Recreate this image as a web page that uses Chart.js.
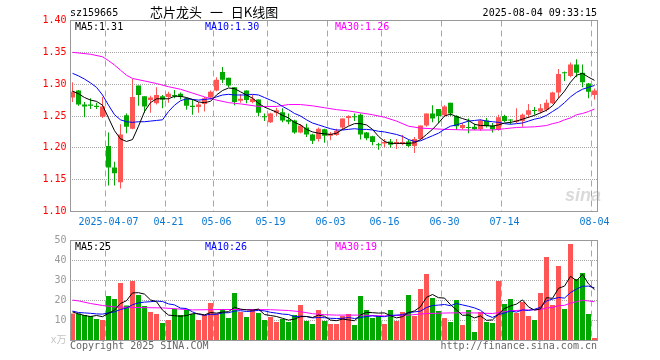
<!DOCTYPE html>
<html>
<head>
<meta charset="utf-8">
<script src="https://cdn.jsdelivr.net/npm/chart.js@4.4.1/dist/chart.umd.min.js"></script>
<style>
    body { margin: 0; background: #fff; }
    #wrap { position: relative; width: 660px; height: 360px; overflow: hidden; }
    canvas { position: absolute; left: 0; }
    .t { position: absolute; font: 10px/10px "DejaVu Sans Mono", monospace; color: #000; white-space: pre; z-index: 2; }
    .cjk { font: 13px/14px "Noto Sans CJK SC", sans-serif; word-spacing: 5px; }
</style>
</head>
<body>
<div id="wrap">
    <canvas id="kChart" width="660" height="236" style="top:0"></canvas>
    <canvas id="vChart" width="660" height="122" style="top:230px"></canvas>

    <div class="t" style="left:70px;top:8px">sz159665</div>
    <div class="t cjk" style="left:150px;top:5px">芯片龙头 一 日K线图</div>
    <div class="t" style="right:63px;top:8px">2025-08-04 09:33:15</div>

    <div class="t" id="lgMa5" style="left:75px;top:22px"></div>
    <div class="t" id="lgMa10" style="left:205px;top:22px;color:#0000ff"></div>
    <div class="t" id="lgMa30" style="left:335px;top:22px;color:#ff00ff"></div>

    <div class="t" id="lgVma5" style="left:75px;top:242px"></div>
    <div class="t" id="lgVma10" style="left:205px;top:242px;color:#0000ff"></div>
    <div class="t" id="lgVma30" style="left:335px;top:242px;color:#ff00ff"></div>

    <div class="t" style="left:70px;top:341px;color:#666">Copyright 2025 SINA.COM</div>
    <div class="t" style="right:63px;top:341px;color:#666">http://finance.sina.com.cn</div>
    <div class="t" style="left:565px;top:186px;font:italic bold 18px/19px 'Liberation Sans',sans-serif;color:rgba(150,150,150,0.35)">sina</div>
</div>

<script>
// trading days shown
const dates = [
    '2025-03-27','2025-03-28','2025-03-31',
    '2025-04-01','2025-04-02','2025-04-03','2025-04-07','2025-04-08','2025-04-09','2025-04-10','2025-04-11',
    '2025-04-14','2025-04-15','2025-04-16','2025-04-17','2025-04-18',
    '2025-04-21','2025-04-22','2025-04-23','2025-04-24','2025-04-25',
    '2025-04-28','2025-04-29','2025-04-30',
    '2025-05-06','2025-05-07','2025-05-08','2025-05-09',
    '2025-05-12','2025-05-13','2025-05-14','2025-05-15','2025-05-16',
    '2025-05-19','2025-05-20','2025-05-21','2025-05-22','2025-05-23',
    '2025-05-26','2025-05-27','2025-05-28','2025-05-29','2025-05-30',
    '2025-06-03','2025-06-04','2025-06-05','2025-06-06',
    '2025-06-09','2025-06-10','2025-06-11','2025-06-12','2025-06-13',
    '2025-06-16','2025-06-17','2025-06-18','2025-06-19','2025-06-20',
    '2025-06-23','2025-06-24','2025-06-25','2025-06-26','2025-06-27',
    '2025-06-30',
    '2025-07-01','2025-07-02','2025-07-03','2025-07-04',
    '2025-07-07','2025-07-08','2025-07-09','2025-07-10','2025-07-11',
    '2025-07-14','2025-07-15','2025-07-16','2025-07-17','2025-07-18',
    '2025-07-21','2025-07-22','2025-07-23','2025-07-24','2025-07-25',
    '2025-07-28','2025-07-29','2025-07-30','2025-07-31',
    '2025-08-01','2025-08-04'
];

const shownDates = ['2025-04-07','2025-04-21','2025-05-06','2025-05-19','2025-06-03','2025-06-16','2025-06-30','2025-07-14','2025-08-04'];
const shownText  = ['2025-04-07','04-21','05-06','05-19','06-03','06-16','06-30','07-14','08-04'];

const opens = [
    1.279,1.290,1.268,1.268,1.266,1.249,1.203,1.169,1.146,1.251,
    1.230,1.298,1.281,1.275,1.270,1.281,1.280,1.283,1.285,1.278,
    1.266,1.264,1.269,1.279,1.290,1.319,1.310,1.295,1.274,1.290,
    1.272,1.276,1.249,1.240,1.255,1.256,1.244,1.243,1.224,1.232,
    1.221,1.214,1.229,1.219,1.220,1.232,1.247,1.249,1.252,1.224,
    1.218,1.205,1.207,1.210,1.206,1.206,1.210,1.203,1.214,1.235,
    1.254,1.261,1.251,1.271,1.250,1.231,1.232,1.233,1.229,1.243,
    1.235,1.228,1.250,1.244,1.241,1.242,1.252,1.259,1.257,1.260,
    1.270,1.287,1.318,1.313,1.331,1.318,1.301,1.283
];
const highs = [
    1.303,1.291,1.272,1.278,1.271,1.280,1.224,1.178,1.237,1.254,
    1.308,1.298,1.281,1.282,1.295,1.283,1.288,1.291,1.287,1.279,
    1.276,1.272,1.280,1.290,1.311,1.327,1.310,1.295,1.284,1.290,
    1.283,1.276,1.254,1.255,1.263,1.262,1.254,1.244,1.237,1.238,
    1.222,1.232,1.230,1.225,1.230,1.246,1.251,1.254,1.254,1.225,
    1.219,1.208,1.214,1.214,1.214,1.220,1.213,1.217,1.235,1.254,
    1.267,1.261,1.267,1.271,1.251,1.239,1.246,1.238,1.245,1.247,
    1.239,1.252,1.252,1.245,1.262,1.254,1.269,1.264,1.269,1.276,
    1.288,1.324,1.320,1.334,1.339,1.331,1.302,1.293
];
const lows = [
    1.272,1.266,1.248,1.261,1.261,1.247,1.141,1.141,1.136,1.223,
    1.229,1.266,1.255,1.255,1.268,1.262,1.271,1.278,1.276,1.260,
    1.252,1.255,1.257,1.276,1.289,1.302,1.295,1.267,1.271,1.270,
    1.270,1.250,1.242,1.239,1.250,1.240,1.237,1.222,1.223,1.217,
    1.206,1.210,1.208,1.212,1.219,1.228,1.235,1.242,1.213,1.212,
    1.204,1.197,1.201,1.200,1.198,1.204,1.201,1.192,1.213,1.233,
    1.240,1.239,1.249,1.250,1.228,1.229,1.223,1.228,1.227,1.232,
    1.224,1.227,1.240,1.237,1.239,1.233,1.247,1.252,1.254,1.257,
    1.269,1.278,1.305,1.311,1.311,1.295,1.278,1.276
];
const closes = [
    1.288,1.268,1.265,1.266,1.264,1.265,1.169,1.160,1.221,1.233,
    1.280,1.283,1.265,1.279,1.283,1.276,1.285,1.281,1.280,1.266,
    1.264,1.268,1.278,1.288,1.307,1.307,1.298,1.272,1.277,1.275,
    1.277,1.255,1.248,1.254,1.259,1.243,1.241,1.224,1.235,1.221,
    1.211,1.230,1.219,1.222,1.227,1.246,1.250,1.248,1.221,1.215,
    1.209,1.204,1.209,1.205,1.209,1.209,1.203,1.214,1.235,1.254,
    1.246,1.250,1.265,1.254,1.234,1.236,1.231,1.229,1.243,1.234,
    1.229,1.248,1.242,1.243,1.243,1.252,1.259,1.258,1.262,1.271,
    1.287,1.316,1.317,1.331,1.318,1.303,1.288,1.290
];

// volume, x万
const volumes = [
    13.5,13.5,12.7,12.2,10.8,10.2,22.2,20.7,28.7,17.5,
    29.7,22.7,17.2,14.2,13.2,8.7,10.2,15.8,12.7,15.2,
    13.2,10.2,12.7,18.7,13.5,15.7,11.2,23.7,14.2,11.7,
    15.2,13.7,10.2,11.7,9.2,10.8,9.2,12.7,17.7,9.7,
    8.2,15.2,9.7,8.2,8.2,12.2,13.2,7.7,22.2,15.2,
    11.2,12.2,8.2,15.2,9.7,14.2,22.7,12.2,25.7,33.2,
    21.2,14.7,11.2,9.2,20.2,7.7,15.2,4.2,14.2,9.2,
    8.7,29.7,18.2,20.7,13.7,19.2,12.2,10.2,23.7,41.7,
    17.7,37.2,15.7,48.2,30.7,33.7,13.2,1.3
];

// moving average lines
const ma5 = [
    1.289,1.285,1.279,1.275,1.273,1.267,1.247,1.227,1.214,1.210,
    1.213,1.234,1.257,1.271,1.277,1.277,1.277,1.281,1.281,1.279,
    1.276,1.272,1.271,1.273,1.283,1.290,1.294,1.293,1.288,1.283,
    1.278,1.270,1.264,1.260,1.256,1.251,1.247,1.240,1.236,1.229,
    1.225,1.223,1.222,1.221,1.223,1.229,1.234,1.238,1.238,1.236,
    1.229,1.218,1.210,1.207,1.207,1.207,1.207,1.208,1.213,1.221,
    1.229,1.239,1.250,1.253,1.249,1.246,1.243,1.237,1.235,1.235,
    1.234,1.236,1.239,1.240,1.242,1.245,1.248,1.251,1.255,1.259,
    1.266,1.278,1.289,1.303,1.314,1.317,1.311,1.306
];
const ma10 = [
    1.317,1.313,1.308,1.302,1.295,1.283,1.267,1.252,1.244,1.241,
    1.240,1.241,1.241,1.242,1.243,1.244,1.257,1.267,1.274,1.277,
    1.276,1.275,1.276,1.277,1.280,1.283,1.284,1.283,1.283,1.283,
    1.284,1.283,1.279,1.275,1.271,1.265,1.260,1.254,1.250,1.244,
    1.239,1.236,1.233,1.230,1.228,1.228,1.229,1.230,1.229,1.229,
    1.228,1.226,1.225,1.223,1.221,1.218,1.213,1.210,1.211,1.215,
    1.219,1.223,1.229,1.234,1.236,1.239,1.242,1.243,1.244,1.242,
    1.241,1.240,1.238,1.237,1.238,1.239,1.242,1.245,1.247,1.251,
    1.257,1.263,1.271,1.280,1.287,1.292,1.295,1.298
];
const ma30At  = [0,3,5,6,7,8,9,10,12,14,16,18,20,22,24,26,28,31,34,36,38,40,42,44,46,48,50,52,54,56,58,60,62,66,70,72,74,77,79,80,81,82,83,84,85,86,87];
const ma30Val = [1.350,1.347,1.343,1.337,1.330,1.322,1.314,1.309,1.305,1.301,1.296,1.292,1.286,1.280,1.275,1.271,1.269,1.265,1.265,1.268,1.268,1.266,1.263,1.260,1.258,1.255,1.252,1.248,1.242,1.234,1.231,1.230,1.229,1.228,1.228,1.230,1.232,1.233,1.235,1.238,1.240,1.244,1.247,1.252,1.254,1.257,1.261];

const vma5 = [
    14.3,13.3,12.5,12.0,12.5,11.9,13.6,15.2,18.5,19.9,
    23.8,23.9,23.2,20.3,19.4,15.2,12.7,12.4,12.1,12.5,
    13.4,13.4,12.8,14.0,13.7,14.2,14.4,16.6,15.7,15.3,
    15.2,15.7,13.0,12.5,12.0,11.1,10.2,10.7,11.9,12.0,
    11.5,12.7,12.1,10.2,9.9,10.7,10.3,9.9,12.7,14.1,
    13.9,13.7,13.8,12.4,11.3,11.9,14.0,14.8,16.9,21.6,
    23.0,21.4,21.2,17.9,15.3,12.6,12.7,11.3,12.3,10.1,
    10.3,13.2,16.0,17.3,18.2,20.3,16.8,15.2,15.8,21.4,
    21.1,26.1,27.2,32.1,29.9,33.1,28.3,25.4
];
const vma10 = [
    14.7,14.0,13.8,13.6,13.3,13.2,13.8,14.3,15.5,16.2,
    17.9,18.8,19.2,19.4,19.7,19.5,18.3,17.8,16.2,16.0,
    14.3,13.1,12.6,13.1,13.1,13.8,13.9,14.7,14.9,14.5,
    14.7,15.1,14.8,14.1,13.7,13.2,13.0,11.9,12.2,12.0,
    11.3,11.5,11.4,11.1,11.0,11.1,11.5,11.0,11.5,12.0,
    12.3,12.0,11.9,12.6,12.7,12.9,13.9,14.3,14.7,16.5,
    17.5,17.7,18.0,17.4,18.5,17.8,17.1,16.3,15.1,12.7,
    11.5,13.0,13.7,14.8,14.2,15.3,15.0,15.6,16.6,19.8,
    20.7,21.5,21.2,24.0,25.7,27.1,27.2,26.3
];
const vma30At  = [0,1,3,5,7,10,15,20,25,29,33,36,38,40,42,44,48,52,56,59,63,67,70,73,76,78,79,80,81,82,83,84,85,86,87];
const vma30Val = [20.2,19.8,18.5,17.5,16.8,16.5,16.3,15.3,15.5,15.5,15.4,15.0,14.4,13.4,12.9,12.7,12.7,12.3,12.7,13.5,13.8,13.8,13.5,14.9,15.3,15.4,16.3,16.5,17.4,17.6,18.7,19.4,20.1,19.8,19.4];

const upColor = '#ff5555';
const downColor = '#00a800';
const monoFont = '"DejaVu Sans Mono", "Noto Sans CJK SC", monospace';

function spread(at, val) {
    let arr = dates.map(() => null);
    at.forEach((k, j) => { arr[k] = val[j]; });
    return arr;
}
function tickText(i) {
    let k = shownDates.indexOf(dates[i]);
    return k < 0 ? '' : shownText[k];
}

const candleColors = closes.map((c, i) => c > opens[i] ? upColor : downColor);
const ma30 = spread(ma30At, ma30Val);
const vma30 = spread(vma30At, vma30Val);

// legends in the panels
document.getElementById('lgMa5').textContent = 'MA5:' + ma5[ma5.length - 1].toFixed(2);
document.getElementById('lgMa10').textContent = 'MA10:' + ma10[ma10.length - 1].toFixed(2);
document.getElementById('lgMa30').textContent = 'MA30:' + ma30Val[ma30Val.length - 1].toFixed(2);
document.getElementById('lgVma5').textContent = 'MA5:' + Math.round(vma5[vma5.length - 1]);
document.getElementById('lgVma10').textContent = 'MA10:' + Math.round(vma10[vma10.length - 1]);
document.getElementById('lgVma30').textContent = 'MA30:' + Math.round(vma30Val[vma30Val.length - 1]);

// grey frame round the plot area
const framePlugin = {
    id: 'frame',
    afterDraw(chart) {
        const {ctx, chartArea: a} = chart;
        let l = Math.ceil(a.left) + 0.5, r = Math.floor(a.right) + 0.5;
        let t = Math.floor(a.top) + 0.5, b = Math.floor(a.bottom) + 0.5;
        ctx.save();
        ctx.strokeStyle = '#999';
        ctx.lineWidth = 1;
        ctx.strokeRect(l, t, r - l, b - t);
        ctx.restore();
    }
};

function maLine(data, color) {
    return {
        type: 'line',
        data: data,
        borderColor: color,
        borderWidth: 1,
        pointRadius: 0,
        tension: 0,
        spanGaps: true,
        order: 0
    };
}

function xAxis(showLabels, height) {
    return {
        type: 'category',
        offset: true,
        grid: {
            offset: true,
            drawTicks: false,
            lineWidth: 1,
            color: c => (c.tick && tickText(c.index)) ? '#a6a6a6' : 'rgba(0,0,0,0)'
        },
        border: { display: false, dash: [6, 4] },
        ticks: {
            display: showLabels,
            autoSkip: false,
            maxRotation: 0,
            padding: 5,
            color: '#0a78d2',
            font: { family: monoFont, size: 10 },
            callback: (v, i) => tickText(i)
        },
        afterFit: s => { s.height = height; }
    };
}

const baseOptions = {
    responsive: false,
    devicePixelRatio: 1,
    animation: false,
    events: [],
    plugins: { legend: { display: false }, tooltip: { enabled: false } }
};

// price chart
new Chart(document.getElementById('kChart'), {
    type: 'bar',
    data: {
        labels: dates,
        datasets: [
            maLine(ma5, '#000000'),
            maLine(ma10, '#0000ff'),
            maLine(ma30, '#ff00ff'),
            {
                data: opens.map((o, i) => [o, closes[i]]),
                backgroundColor: candleColors,
                barThickness: 5,
                minBarLength: 1,
                grouped: false,
                inflateAmount: 0,
                order: 1
            },
            {
                data: lows.map((l, i) => [l, highs[i]]),
                backgroundColor: candleColors,
                barThickness: 1,
                grouped: false,
                inflateAmount: 0,
                order: 2
            }
        ]
    },
    options: {
        ...baseOptions,
        layout: { padding: { left: 0, right: 62.5, top: 20.5, bottom: 0 } },
        scales: {
            x: xAxis(true, 24.5),
            y: {
                min: 1.10,
                max: 1.40,
                ticks: {
                    stepSize: 0.05,
                    padding: 3,
                    color: '#ff0000',
                    font: { family: monoFont, size: 10 },
                    callback: v => v.toFixed(2)
                },
                grid: { color: '#a6a6a6', drawTicks: false },
                border: { display: false, dash: [1, 1] },
                afterFit: s => { s.width = 69.5; }
            }
        }
    },
    plugins: [framePlugin]
});

// volume chart
new Chart(document.getElementById('vChart'), {
    type: 'bar',
    data: {
        labels: dates,
        datasets: [
            maLine(vma5, '#000000'),
            maLine(vma10, '#0000ff'),
            maLine(vma30, '#ff00ff'),
            {
                data: volumes,
                backgroundColor: candleColors,
                barThickness: 5,
                grouped: false,
                inflateAmount: 0,
                order: 1
            }
        ]
    },
    options: {
        ...baseOptions,
        layout: { padding: { left: 0, right: 62.5, top: 10.5, bottom: 0 } },
        scales: {
            x: xAxis(false, 11.5),
            y: {
                min: 0,
                max: 50,
                ticks: {
                    stepSize: 10,
                    padding: 3,
                    color: c => c.tick.value === 0 ? '#c4c4c4' : '#999999',
                    font: { family: monoFont, size: 10 },
                    callback: v => v === 0 ? 'x万' : v
                },
                grid: { color: '#a6a6a6', drawTicks: false },
                border: { display: false, dash: [1, 1] },
                afterFit: s => { s.width = 69.5; }
            }
        }
    },
    plugins: [framePlugin]
});
</script>
</body>
</html>
